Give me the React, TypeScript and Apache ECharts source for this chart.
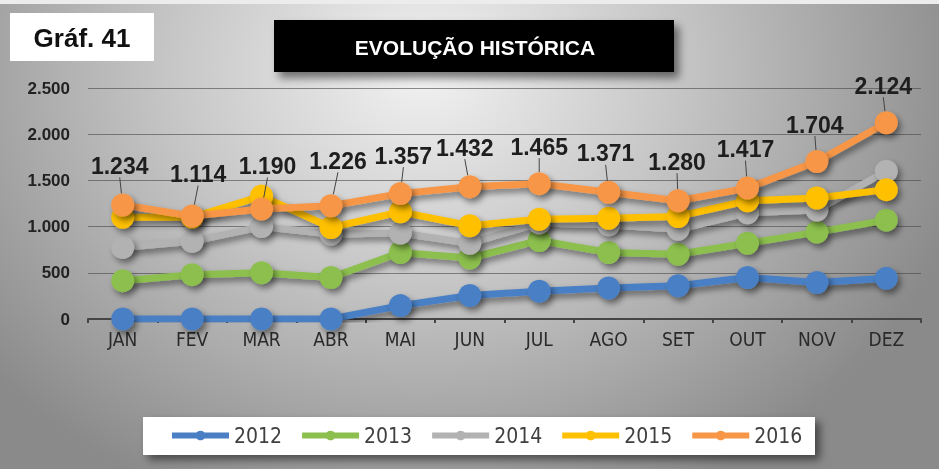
import React, { useEffect, useRef } from "react";
import * as echarts from "echarts";

const months = ["JAN", "FEV", "MAR", "ABR", "MAI", "JUN", "JUL", "AGO", "SET", "OUT", "NOV", "DEZ"];
const years = ["2012", "2013", "2014", "2015", "2016"];
const s2012 = [0, 0, 0, 0, 145, 255, 300, 335, 360, 450, 395, 440];
const s2013 = [415, 480, 500, 450, 720, 660, 850, 720, 700, 820, 940, 1070];
const s2014 = [775, 840, 1000, 920, 930, 820, 1040, 1020, 970, 1150, 1180, 1600];
const s2015 = [1100, 1100, 1330, 990, 1160, 1010, 1080, 1090, 1110, 1280, 1310, 1400];
const s2016 = [1234, 1114, 1190, 1226, 1357, 1432, 1465, 1371, 1280, 1417, 1704, 2124];
const yTicks = [0, 500, 1000, 1500, 2000, 2500];
const colors = ["#4A7FC4", "#8CBF4E", "#B2B2B2", "#FFC000", "#F79646"];
const labelShift = [
  [-3, 0], [6, -3], [6, -4], [7, -6], [3, 1], [-5, 0],
  [0, 2], [-3, 0], [-1, 0], [-2, 0], [-2, 2], [-3, 2],
];

const fmt = (v: number) => String(v).replace(/\B(?=(\d{3})+(?!\d))/g, ".");
const narrow = "'DejaVu Sans Condensed', 'Liberation Sans', sans-serif";
const sans = "'Liberation Sans', Arial, sans-serif";

export default function App() {
  const ref = useRef<HTMLDivElement>(null);
  useEffect(() => {
    const chart = echarts.init(ref.current!, undefined, { renderer: "svg" });
    const all = [s2012, s2013, s2014, s2015, s2016];
    const shadow = {
      shadowBlur: 6,
      shadowColor: "rgba(0,0,0,0.45)",
      shadowOffsetX: 3,
      shadowOffsetY: 4,
    };
    const series = all.map((d, i) => ({
      name: years[i],
      type: "line",
      data: d,
      symbol: "circle",
      symbolSize: 23,
      color: colors[i],
      lineStyle: { width: 7, color: colors[i], ...shadow },
      itemStyle: { color: colors[i], ...shadow },
      z: 2 + i,
      label:
        i === 4
          ? {
              show: true,
              position: "top",
              distance: 15,
              fontFamily: sans,
              fontWeight: "bold",
              fontSize: 23,
              color: "#1e1e1e",
              formatter: (p: any) => fmt(p.value),
            }
          : { show: false },
      labelLine: i === 4 ? { show: true, lineStyle: { color: "#444", width: 1 } } : undefined,
      labelLayout:
        i === 4
          ? (p: any) => ({ dx: labelShift[p.dataIndex][0], dy: labelShift[p.dataIndex][1] - 1 })
          : undefined,
    }));
    chart.setOption({
      animation: false,
      grid: { left: 88, right: 18, top: 88, bottom: 150 },
      legend: {
        data: years,
        left: 169,
        top: 425,
        padding: 0,
        itemWidth: 57,
        itemHeight: 12,
        itemGap: 17,
        lineStyle: { width: 6 },
        textStyle: { fontFamily: narrow, fontSize: 21, color: "#404040" },
      },
      xAxis: {
        type: "category",
        data: months,
        axisLine: { lineStyle: { color: "#454545", width: 2 } },
        axisTick: { show: true, length: 4, lineStyle: { color: "#454545", width: 2 } },
        axisLabel: { fontFamily: narrow, fontSize: 19, color: "#2a2a2a", margin: 10 },
      },
      yAxis: {
        type: "value",
        min: yTicks[0],
        max: yTicks[yTicks.length - 1],
        interval: 500,
        axisLine: { show: false },
        axisTick: { show: false },
        axisLabel: {
          fontFamily: sans,
          fontWeight: "bold",
          fontSize: 17,
          color: "#222",
          margin: 18,
          formatter: (v: number) => fmt(v),
        },
        splitLine: { lineStyle: { color: "rgba(70,70,70,0.6)", width: 1 } },
      },
      graphic: [
        { type: "rect", left: 0, top: 0, shape: { width: 939, height: 4 }, style: { fill: "#ececec" }, z: 1 },
        {
          type: "rect",
          left: 10,
          top: 13,
          shape: { width: 144, height: 48 },
          style: { fill: "#ffffff" },
          z: 1,
        },
        {
          type: "text",
          x: 82,
          y: 38,
          style: {
            text: "Gráf. 41",
            fontFamily: sans,
            fontWeight: "bold",
            fontSize: 26,
            fill: "#111",
            textAlign: "center",
            textVerticalAlign: "middle",
          },
          z: 2,
        },
        {
          type: "rect",
          left: 274,
          top: 20,
          shape: { width: 400, height: 52 },
          style: { fill: "#000", shadowBlur: 8, shadowOffsetX: 5, shadowOffsetY: 6, shadowColor: "rgba(0,0,0,0.5)" },
          z: 1,
        },
        {
          type: "text",
          x: 475,
          y: 47,
          style: {
            text: "EVOLUÇÃO HISTÓRICA",
            fontFamily: sans,
            fontWeight: "bold",
            fontSize: 21,
            fill: "#fff",
            textAlign: "center",
            textVerticalAlign: "middle",
          },
          z: 2,
        },
        {
          type: "rect",
          left: 143,
          top: 417,
          shape: { width: 672, height: 38 },
          style: { fill: "#fff", shadowBlur: 8, shadowOffsetX: 5, shadowOffsetY: 5, shadowColor: "rgba(0,0,0,0.5)" },
          z: -1,
        },
      ],
      series,
    });
    return () => chart.dispose();
  }, []);
  return (
    <div
      ref={ref}
      style={{
        position: "fixed",
        left: 0,
        top: 0,
        width: 939,
        height: 469,
        background:
          "radial-gradient(ellipse 60% 100% at 45% 15%, #f2f2f2 0%, #c6c6c6 45%, #8a8a8a 100%)",
      }}
    />
  );
}
